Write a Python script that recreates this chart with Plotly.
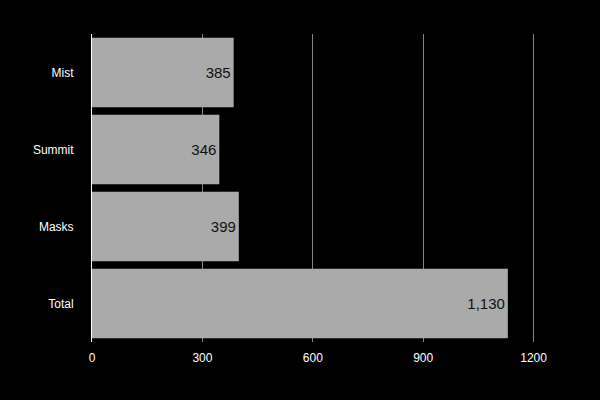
import plotly.graph_objects as go

categories = ["Mist", "Summit", "Masks", "Total"]
values = [385, 346, 399, 1130]
x_ticks = [0, 300, 600, 900, 1200]

fig = go.Figure(go.Bar(
    y=categories,
    x=values,
    orientation="h",
    marker=dict(color="#aaaaaa", line=dict(width=0)),
    texttemplate="%{x:,}",
    textposition="inside",
    insidetextanchor="end",
    textfont=dict(color="#111111", size=15, family="Liberation Sans"),
))

fig.update_layout(
    width=600, height=400,
    paper_bgcolor="black", plot_bgcolor="black",
    margin=dict(l=92, r=48, t=34, b=58),
    bargap=0.1,
    showlegend=False,
    font=dict(family="Liberation Sans", color="white", size=12),
    xaxis=dict(
        range=[0, 1250],
        tickvals=x_ticks,
        tickformat="d",
        showgrid=True, gridcolor="#858585", gridwidth=1,
        zeroline=False, showline=False,
        ticks="outside", ticklen=5, tickcolor="black",
        tickfont=dict(color="white", size=12),
    ),
    yaxis=dict(
        categoryorder="array",
        categoryarray=categories[::-1],
        showgrid=False, zeroline=False,
        showline=True, linecolor="white", linewidth=1,
        ticks="outside", ticklen=15, tickcolor="black",
        tickfont=dict(color="white", size=12),
    ),
)

fig.write_html("out.html")
